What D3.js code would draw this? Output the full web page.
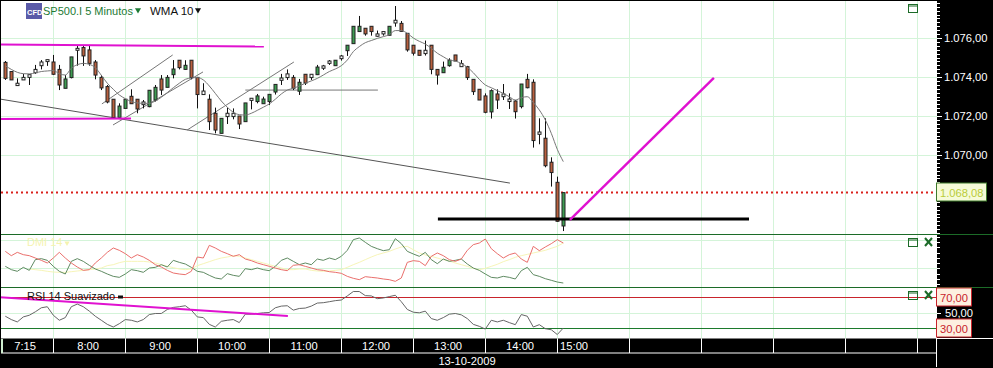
<!DOCTYPE html>
<html>
<head>
<meta charset="utf-8">
<script src="https://cdn.jsdelivr.net/npm/d3@7"></script>
<style>
	html, body { margin: 0; padding: 0; background: #000; overflow: hidden; }
	svg { display: block; }
	text { font-family: "Liberation Sans", Arial, sans-serif; }
</style>
</head>
<body>
<div id="chart"></div>
<script>
// candles, one per 5 minutes
const opens = [1074.75,1074.28,1073.56,1073.85,1074.12,1074.22,1074.58,1074.79,1074.77,1074.39,1073.42,1073.97,1075.47,1075.51,1075.39,1074.77,1073.98,1073.51,1072.86,1071.93,1072.39,1073.01,1072.86,1072.58,1072.48,1072.82,1073.90,1073.47,1074.12,1074.86,1074.39,1074.86,1073.98,1073.28,1072.86,1072.14,1071.11,1071.97,1071.97,1072.00,1071.71,1072.80,1072.74,1072.63,1072.74,1073.23,1073.83,1073.97,1073.98,1073.27,1074.14,1073.97,1074.12,1074.45,1074.70,1074.58,1074.94,1075.35,1075.71,1076.33,1076.50,1076.60,1076.09,1076.21,1076.14,1076.77,1076.75,1076.24,1075.63,1075.37,1075.20,1075.63,1074.39,1074.22,1074.58,1075.13,1074.53,1074.53,1073.88,1073.37,1073.03,1072.21,1073.13,1072.99,1072.74,1072.77,1072.48,1073.88,1073.73,1071.06,1070.86,1069.63,1068.60,1066.36];
const closes = [1073.93,1073.85,1073.68,1073.98,1073.98,1074.39,1074.77,1074.89,1074.14,1073.59,1073.90,1075.03,1075.37,1075.08,1074.70,1074.10,1073.44,1072.72,1071.92,1072.51,1072.86,1072.63,1072.36,1072.72,1073.32,1073.47,1073.33,1073.98,1074.41,1074.48,1074.60,1073.97,1073.10,1073.10,1071.71,1071.28,1071.88,1072.14,1072.14,1071.59,1072.67,1072.91,1073.03,1072.87,1073.11,1073.62,1073.95,1074.16,1073.42,1073.73,1073.69,1074.14,1074.51,1074.57,1074.82,1074.86,1075.08,1075.63,1076.60,1076.60,1076.21,1076.33,1076.21,1076.33,1076.60,1076.91,1076.34,1075.39,1075.22,1075.11,1075.37,1074.39,1074.10,1074.50,1074.86,1074.82,1074.69,1073.97,1073.25,1072.82,1072.19,1073.30,1072.82,1073.13,1072.87,1072.22,1073.64,1073.45,1070.74,1071.18,1069.45,1069.10,1066.60,1068.07];
const highs = [1074.82,1074.28,1073.93,1074.16,1074.12,1074.62,1074.87,1074.89,1075.13,1074.62,1074.10,1075.03,1075.59,1075.59,1075.59,1074.87,1074.10,1073.59,1072.86,1072.65,1072.86,1073.37,1072.86,1072.82,1073.32,1073.59,1074.10,1074.10,1074.87,1074.86,1074.86,1074.86,1073.98,1073.68,1073.11,1072.43,1071.88,1072.43,1072.39,1072.00,1072.67,1072.91,1073.13,1072.99,1073.11,1073.62,1074.16,1074.39,1074.10,1073.90,1074.14,1074.14,1074.62,1074.62,1074.87,1074.86,1075.13,1075.63,1076.60,1077.13,1076.50,1076.60,1076.38,1076.33,1076.60,1077.64,1076.87,1076.24,1075.63,1075.37,1075.87,1075.63,1074.39,1074.79,1074.96,1075.13,1074.87,1074.57,1073.88,1073.37,1073.16,1073.37,1073.37,1073.64,1073.16,1072.82,1073.64,1074.16,1073.88,1071.88,1071.88,1069.88,1068.89,1068.07];
const lows = [1073.85,1073.85,1073.56,1073.85,1073.59,1074.16,1074.39,1074.57,1074.10,1073.33,1073.42,1073.93,1074.58,1074.57,1074.58,1073.88,1073.33,1072.65,1071.88,1071.93,1072.39,1072.63,1072.14,1072.39,1072.45,1072.74,1073.08,1073.47,1073.93,1074.39,1074.36,1073.88,1072.39,1073.08,1071.28,1071.11,1071.11,1071.59,1071.83,1071.33,1071.71,1072.34,1072.65,1072.63,1072.56,1073.10,1073.59,1073.85,1073.33,1073.08,1073.59,1073.85,1074.10,1074.36,1074.62,1074.58,1074.84,1075.08,1075.71,1076.33,1076.12,1076.12,1076.07,1076.12,1076.14,1076.58,1076.33,1075.30,1075.10,1075.11,1075.10,1074.14,1073.61,1074.22,1074.53,1074.82,1074.53,1073.85,1073.08,1072.82,1072.14,1071.87,1072.36,1072.82,1072.36,1071.87,1072.39,1073.42,1070.38,1070.55,1069.37,1068.38,1066.57,1066.10];
const wma = [1074.58,1074.39,1074.24,1074.17,1074.16,1074.21,1074.28,1074.31,1074.33,1074.17,1074.10,1074.45,1074.63,1074.70,1074.65,1074.48,1074.09,1073.68,1073.37,1073.08,1072.89,1072.74,1072.67,1072.65,1072.65,1072.77,1072.96,1073.20,1073.45,1073.68,1073.88,1073.95,1073.97,1073.85,1073.54,1073.16,1072.77,1072.45,1072.19,1072.07,1072.05,1072.14,1072.29,1072.45,1072.62,1072.86,1073.13,1073.33,1073.42,1073.54,1073.68,1073.80,1073.93,1074.10,1074.28,1074.41,1074.58,1074.87,1075.30,1075.56,1075.76,1075.87,1075.98,1076.07,1076.17,1076.38,1076.38,1076.24,1076.00,1075.83,1075.69,1075.47,1075.22,1075.04,1074.87,1074.82,1074.69,1074.50,1074.22,1073.88,1073.59,1073.45,1073.30,1073.16,1072.99,1072.82,1072.94,1072.99,1072.69,1072.31,1071.80,1071.11,1070.29,1069.66];

// DMI panel
const diPlus = [67.3,59.1,65.4,61,59.1,54.7,50.3,45.3,54.7,65.4,54.7,45.3,37.7,31.4,32.7,45.3,54.7,65.4,73.6,69.2,62.9,54.7,61,56.6,50.3,42.1,37.7,31.4,26.4,24.5,23.3,29.6,56.6,54.7,78.6,73.6,67.3,62.9,57.9,61,52.8,49.7,45.3,42.1,39,35.8,32.7,30.8,40.9,42.1,39,35.8,32.7,31.4,28.9,27.7,25.8,20.1,16.4,13.8,19.5,18.2,17,15.1,13.8,10.7,17,46.5,49.7,48.4,40.3,57.9,64.2,59.1,51.6,48.4,52.8,69.2,79.9,83,90.6,72.3,62.9,54.7,61,64.2,52.8,46.5,76.7,68.6,75.5,81.8,89.3,83];
const diMinus = [39,32.7,29.6,37.1,31.4,51.6,53.5,50.3,39,29.6,24.5,48.4,53.5,48.4,40.9,34,29.6,24.5,20.1,18.2,24.5,32.7,30.8,27.7,35.8,37.1,42.1,37.7,50.3,46.5,43.4,37.1,29.6,27.7,22,17,15.1,25.2,22,20.1,34.6,32.7,35.8,32.7,30.8,39,50.3,54.7,48.4,42.1,45.3,42.1,52.8,50.3,54.7,51.6,57.9,69.2,89.3,92.5,84.3,76.7,72.3,68.6,70.4,91.2,81.8,67.3,62.3,57.9,65.4,51.6,44,52.8,48.4,50.3,52.8,43.4,35.8,31.4,24.5,18.2,17,20.1,18.2,15.1,30.8,37.1,23.3,20.1,15.7,12.6,9.4,7.5];
const adxStart = 4;
const adx = [34,32.7,31.4,29.6,28.3,27.7,27.7,28.9,30.2,31.4,32.7,34,35.8,40.3,42.1,45.9,48.4,48.4,48.4,48.4,47.2,45.3,42.1,39,36.5,34,32.7,34,40.3,44,47.8,51.6,54.7,56.6,59.1,57.9,54.7,51.6,48.4,45.3,42.1,39,35.8,32.7,32.7,34,34,31.4,30.2,29.6,30.2,31.4,32.7,37.1,42.1,46.5,51.6,56.6,61,64.2,67.3,71.7,75.5,76.7,70.4,64.2,60.4,57.9,54.7,51.6,49.1,45.3,42.1,39,35.2,32.7,35.2,39,42.8,47.8,51.6,56,59.1,61.6,64.2,66.7,69.2,73,76.7,83];

// RSI panel
const rsi = [45.1,40.7,37.6,44.2,46.4,50.9,56.2,57.6,46.4,39.8,43.3,57.6,61.1,57.6,51.8,45.1,39.8,34.4,30.9,35.3,40.7,39.8,37.6,40.7,47.3,48.7,48.7,54,56.7,57.6,58.9,53.1,44.2,43.3,34.4,30.9,38.4,39.8,40.7,36.7,47.8,47.8,48.7,49.6,50,56.2,58.4,58.9,53.1,55.3,55.8,58.4,62.4,62.9,64.2,65.6,66.4,71.8,77.6,77.6,72.2,71.8,68.2,69.1,70.9,72.7,64.2,54,50.4,49.6,51.8,42,39.8,43.3,47.8,48.7,46.9,42,34.4,31.8,28.2,39.8,37.6,39.8,36.7,34,47.3,45.1,30.9,34,28.7,27.3,21,29.6];

// time axis: candle index of the hour lines and of the label centres
const hourIdx = [8,20,32,44,56,68,80,92,104,116,128,140,152];
const timeLabels = ["7:15","8:00","9:00","10:00","11:00","12:00","13:00","14:00","15:00"];
const timeLabelIdx = [3.3,13.8,25.8,37.8,49.8,61.8,73.8,85.8,94.8];
const dateLabel = "13-10-2009";

const priceTicks = [1070,1072,1074,1076];
const lastPrice = 1068.08;

// hand drawn lines on the chart: [candle index, value]
const magentaTop = [[-0.9,1075.67],[43.1,1075.56]];
const magentaLow = [[-0.9,1071.85],[20.95,1071.87]];
const magentaUp = [[94.1,1066.67],[118.1,1073.95]];
const magentaRsi = [[-0.9,70],[47.1,45.4]];
const blackSupport = [[72.1,1066.72],[123.95,1066.72]];
const darkTrend = [[-0.9,1072.87],[84.1,1068.56]];
const greyLines = [
	[[16.1,1072.62],[27.9,1075.13]],
	[[17.95,1071.54],[32.95,1074.26]],
	[[30.3,1071.28],[48.1,1074.77]],
	[[40,1073.33],[62.1,1073.33]]
];

const width = 993, height = 368;
const plotRight = 937;
const mainBottom = 234, dmiBottom = 287, rsiBottom = 338.5, timeBottom = 353;
const axisFont = 11.2;

const x = d3.scaleLinear().domain([0,93]).range([5.3,563.3]);
const y = d3.scaleLinear().domain([1076,1070]).range([38,155]);
const yDmi = d3.scaleLinear().domain([0,100]).range([dmiBottom,mainBottom]);
const yRsi = d3.scaleLinear().domain([70,30]).range([297.3,327.7]);

const priceFormat = d3.formatLocale({decimal:",",thousands:".",grouping:[3],currency:["",""]}).format(",.2f");
const snap = v => Math.round(v)+0.5;

const svg = d3.select("#chart").append("svg")
	.attr("width",width)
	.attr("height",height);

svg.append("rect").attr("width",width).attr("height",height).attr("fill","#000");
svg.append("rect").attr("x",1).attr("y",1)
	.attr("width",plotRight-1).attr("height",rsiBottom-1).attr("fill","#fff");

// grid
const gridColor = "#d4f4d9";
const grid = svg.append("g").attr("stroke",gridColor).attr("stroke-width",1);
grid.selectAll(".v").data(hourIdx).join("line")
	.attr("x1",d=>snap(x(d)-0.5)).attr("x2",d=>snap(x(d)-0.5))
	.attr("y1",1).attr("y2",rsiBottom);
grid.selectAll(".h").data(priceTicks).join("line")
	.attr("x1",1).attr("x2",plotRight)
	.attr("y1",d=>snap(y(d))).attr("y2",d=>snap(y(d)));
grid.selectAll(".d").data([88,36]).join("line")
	.attr("x1",1).attr("x2",plotRight)
	.attr("y1",d=>snap(yDmi(d))).attr("y2",d=>snap(yDmi(d)));
grid.append("line").attr("x1",1).attr("x2",plotRight)
	.attr("y1",snap(yRsi(50))).attr("y2",snap(yRsi(50)));

const seg = (data,fx,fy) => d3.line().x(d=>fx(d[0])).y(d=>fy(d[1]))(data);
const drawSeg = (data,fy,color,w) => svg.append("path")
	.attr("d",seg(data,x,fy))
	.attr("fill","none").attr("stroke",color).attr("stroke-width",w);

// price panel
svg.append("line").attr("x1",1).attr("x2",plotRight)
	.attr("y1",y(lastPrice)).attr("y2",y(lastPrice))
	.attr("stroke","#d9201c").attr("stroke-width",2).attr("stroke-dasharray","2,3");

drawSeg(darkTrend,y,"#555",1);
greyLines.forEach(l=>drawSeg(l,y,"#777",1));

const candles = opens.map((o,i)=>({i:i,o:o,c:closes[i],h:highs[i],l:lows[i]}));
const candle = svg.append("g").selectAll("g").data(candles).join("g")
	.attr("transform",d=>`translate(${snap(x(d.i)-0.5)},0)`);
candle.append("line")
	.attr("y1",d=>y(d.h)).attr("y2",d=>y(d.l))
	.attr("stroke","#111").attr("stroke-width",1);
candle.append("rect")
	.attr("x",-1.5).attr("width",3)
	.attr("y",d=>y(Math.max(d.o,d.c)))
	.attr("height",d=>Math.abs(y(d.o)-y(d.c)))
	.attr("fill",d=>Math.abs(d.o-d.c)<0.2 ? "#fff" : (d.c>d.o ? "#3e9c52" : "#b9613f"))
	.attr("stroke","#222").attr("stroke-width",1);

svg.append("path")
	.attr("d",d3.line().x((d,i)=>x(i)).y(d=>y(d)).curve(d3.curveMonotoneX)(wma))
	.attr("fill","none").attr("stroke","#777").attr("stroke-width",1);

drawSeg(blackSupport,y,"#000",3);
drawSeg(magentaTop,y,"#e011d0",2);
drawSeg(magentaLow,y,"#e011d0",2);
drawSeg(magentaUp,y,"#e011d0",2.4);

// panel lines
const panelLine = (data,fy,color,start) => svg.append("path")
	.attr("d",d3.line().x((d,i)=>x(i+(start||0))).y(d=>fy(d))(data))
	.attr("fill","none").attr("stroke",color).attr("stroke-width",1);
panelLine(adx,yDmi,"#f7f5b8",adxStart);
panelLine(diMinus,yDmi,"#5f8a62");
panelLine(diPlus,yDmi,"#ea6f6c");

svg.append("line").attr("x1",1).attr("x2",plotRight)
	.attr("y1",snap(yRsi(70))).attr("y2",snap(yRsi(70)))
	.attr("stroke","#c8242c").attr("stroke-width",1);
svg.append("line").attr("x1",1).attr("x2",plotRight)
	.attr("y1",snap(yRsi(30))).attr("y2",snap(yRsi(30)))
	.attr("stroke","#1c7a2c").attr("stroke-width",1);
panelLine(rsi,yRsi,"#666");
drawSeg(magentaRsi,yRsi,"#e011d0",2);

// panel separators run through the axis strip
svg.selectAll(".sep").data([mainBottom,dmiBottom]).join("line")
	.attr("x1",1).attr("x2",width)
	.attr("y1",d=>d+0.5).attr("y2",d=>d+0.5)
	.attr("stroke","#1c6b28").attr("stroke-width",1);

// right axis
const rightAxis = svg.append("g");
rightAxis.append("g")
	.attr("transform",`translate(${plotRight},0)`)
	.call(d3.axisRight(y).tickValues(priceTicks).tickSize(5).tickFormat(priceFormat))
	.call(g=>g.select(".domain").remove())
	.call(g=>g.selectAll("line").attr("stroke","#fff"))
	.call(g=>g.selectAll("text").attr("fill","#fff").attr("x",7).attr("font-size",axisFont)
		.style("font-family",'"Liberation Sans", Arial, sans-serif'));
const minorPrice = d3.range(1066,1078,0.2).filter(d=>y(d)>1 && y(d)<mainBottom-1);
rightAxis.selectAll(".mp").data(minorPrice).join("line")
	.attr("x1",plotRight).attr("x2",plotRight+3)
	.attr("y1",d=>snap(y(d))).attr("y2",d=>snap(y(d)))
	.attr("stroke","#fff");
rightAxis.selectAll(".md").data(d3.range(5,100,10)).join("line")
	.attr("x1",plotRight).attr("x2",plotRight+3)
	.attr("y1",d=>snap(yDmi(d))).attr("y2",d=>snap(yDmi(d)))
	.attr("stroke","#fff");
rightAxis.append("line").attr("x1",plotRight).attr("x2",plotRight+4)
	.attr("y1",snap(yRsi(50))).attr("y2",snap(yRsi(50))).attr("stroke","#fff");
rightAxis.append("text").attr("x",plotRight+8).attr("y",yRsi(50)+4.5)
	.attr("fill","#fff").attr("font-size",axisFont).text(priceFormat(50));

// value flags on the axis
const flag = (value,fy,w,fill,stroke,color,label) => {
	const g = svg.append("g").attr("transform",`translate(${plotRight-0.5},${Math.round(fy(value))})`);
	g.append("rect").attr("y",-9).attr("width",w).attr("height",18)
		.attr("fill",fill).attr("stroke",stroke).attr("stroke-width",1);
	g.append("text").attr("x",3.5).attr("y",4.5).attr("font-size",axisFont)
		.attr("fill",color).text(label);
};
flag(lastPrice,y,50,"#f6fbd8","#3f7a2d","#b9cc3a",priceFormat(lastPrice));
flag(70,yRsi,35,"#fdf0e0","#c8242c","#c8242c",priceFormat(70));
flag(30,yRsi,35,"#fdf0e0","#c8242c","#c8242c",priceFormat(30));

// time axis
const timeAxis = svg.append("g");
timeAxis.append("line").attr("x1",0).attr("x2",plotRight).attr("y1",timeBottom).attr("y2",timeBottom).attr("stroke","#fff");
timeAxis.append("line").attr("x1",plotRight-0.5).attr("x2",width).attr("y1",338.5).attr("y2",338.5).attr("stroke","#fff");
timeAxis.append("line").attr("x1",plotRight-0.5).attr("x2",plotRight-0.5).attr("y1",338).attr("y2",367).attr("stroke","#fff");
timeAxis.selectAll(".t").data(hourIdx).join("line")
	.attr("x1",d=>snap(x(d)-0.5)).attr("x2",d=>snap(x(d)-0.5))
	.attr("y1",rsiBottom).attr("y2",timeBottom).attr("stroke","#fff");
timeAxis.append("rect").attr("x",1).attr("y",339).attr("width",2).attr("height",14).attr("fill","#cfeecf");
timeAxis.selectAll(".l").data(timeLabels).join("text")
	.attr("x",(d,i)=>x(timeLabelIdx[i])).attr("y",350)
	.attr("text-anchor","middle").attr("font-size",axisFont).attr("fill","#fff")
	.text(d=>d);
timeAxis.append("text").attr("x",467).attr("y",365).attr("text-anchor","middle")
	.attr("font-size",axisFont).attr("fill","#fff").text(dateLabel);

// header
svg.append("rect").attr("x",26).attr("y",3).attr("width",16).attr("height",16).attr("fill","#5a5aa8");
svg.append("text").attr("x",27).attr("y",14.5).attr("font-size",7.5).attr("font-weight","bold").attr("fill","#fff").text("CFD");
svg.append("text").attr("x",43).attr("y",14.5).attr("font-size",11).attr("fill","#1d7a34").text("SP500.I 5 Minutos");
svg.append("path").attr("d",d3.symbol(d3.symbolTriangle,16)()).attr("fill","#1d7a34")
	.attr("transform","translate(138,10) rotate(180)");
svg.append("text").attr("x",150).attr("y",14.5).attr("font-size",11.5).attr("fill","#111").text("WMA 10");
svg.append("path").attr("d",d3.symbol(d3.symbolTriangle,16)()).attr("fill","#111")
	.attr("transform","translate(198,10) rotate(180)");

svg.append("text").attr("x",27).attr("y",246).attr("font-size",11).attr("fill","#f5f3b0").text("DMI 14");
svg.append("path").attr("d",d3.symbol(d3.symbolTriangle,12)()).attr("fill","#f5f3b0")
	.attr("transform","translate(67,243) rotate(180)");
svg.append("text").attr("x",27).attr("y",300).attr("font-size",11).attr("fill","#111").text("RSI 14 Suavizado");
svg.append("rect").attr("x",118).attr("y",295.5).attr("width",5).attr("height",3).attr("fill","#111");

// panel buttons
const iconColor = "#1c6b28";
const maxButton = top => {
	const g = svg.append("g").attr("fill","none").attr("stroke",iconColor);
	g.append("rect").attr("x",908.5).attr("y",top+0.5).attr("width",9).attr("height",8);
	g.append("line").attr("x1",908.5).attr("x2",917.5).attr("y1",top+2).attr("y2",top+2);
};
const closeButton = top => {
	const g = svg.append("g").attr("stroke",iconColor).attr("stroke-width",2);
	g.append("line").attr("x1",925).attr("x2",932).attr("y1",top).attr("y2",top+8);
	g.append("line").attr("x1",932).attr("x2",925).attr("y1",top).attr("y2",top+8);
};
[4,238,291].forEach(maxButton);
[238,291].forEach(closeButton);

svg.append("rect").attr("x",0).attr("y",0).attr("width",1).attr("height",height).attr("fill","#000");
</script>
</body>
</html>
